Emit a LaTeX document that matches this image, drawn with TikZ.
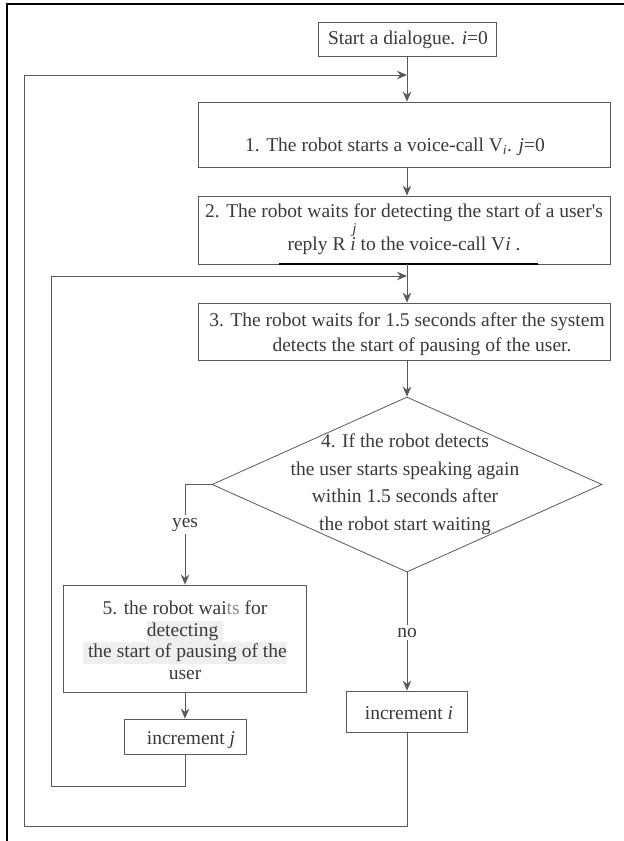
\documentclass[tikz,border=0pt]{standalone}
\usepackage{fontspec}
\setmainfont{Liberation Serif}
\usetikzlibrary{arrows.meta,shapes.geometric}
\definecolor{ln}{HTML}{595959}
\definecolor{tx}{HTML}{3A3A3A}
\definecolor{hl}{HTML}{EFEFEF}
\definecolor{lt}{HTML}{8A8A8A}
\newcommand{\hlbox}[1]{{\setlength{\fboxsep}{0pt}\colorbox{hl}{\strut #1}}}
\begin{document}
\begin{tikzpicture}[x=1pt,y=-1pt,
  box/.style={draw=ln, line width=0.8pt, rectangle, inner sep=0pt},
  txt/.style={text=tx, font=\fontsize{19.5}{23}\selectfont, align=center, inner sep=0pt},
  arr/.style={draw=ln, line width=0.9pt, -{Stealth[length=10pt,width=8.5pt]}},
  lbl/.style={txt, fill=white, inner sep=3pt}]
\useasboundingbox (0,0) rectangle (624,841);
\fill[white] (0,0) rectangle (624,841);
\draw[black, line width=1.2pt] (624,4) -- (7,4) -- (7,841);

% nodes
\node[box, minimum width=178pt, minimum height=34pt] (start) at (407,39) {};
\node[txt, font=\fontsize{19.5}{23}\selectfont] (tstart) at (408,40) {Start a dialogue. \textit{i}=0};

\node[box, minimum width=412pt, minimum height=65pt] (b1) at (404,134.5) {};
\node[txt] (t1) at (395,147) {1. The robot starts a voice-call V\textsubscript{\textit{i}}. \textit{j}=0};

\node[box, minimum width=412pt, minimum height=68pt] (b2) at (404,230) {};
\node[txt, font=\fontsize{19.5}{33}\selectfont] (t2) at (404,229) {2. The robot waits for detecting the start of a user\textquotesingle s\\
reply R \makebox[0pt][l]{\raisebox{0.85em}{\kern2pt\fontsize{15}{17}\selectfont\textit{j}}}\textit{i} to the voice-call V\textit{i} .};
\draw[black, line width=1.6pt] (279,264) -- (538,264);

\node[box, minimum width=412pt, minimum height=57pt] (b3) at (404,331.5) {};
\node[txt, font=\fontsize{19.5}{25}\selectfont] (t3) at (407,334) {3. The robot waits for 1.5 seconds after the system\\
\hspace*{30pt}detects the start of pausing of the user.};

\node[draw=ln, line width=0.8pt, diamond, minimum width=390pt, minimum height=175pt, inner sep=0pt] (d) at (407,484.5) {};
\node[txt, font=\fontsize{19.5}{27.5}\selectfont] (td) at (405,484) {4. If the robot detects\\the user starts speaking again\\within 1.5 seconds after\\the robot start waiting};

\node[box, minimum width=243pt, minimum height=107pt] (b5) at (185,638.5) {};
\node[txt, font=\fontsize{19.5}{21.5}\selectfont] (t5) at (185,640) {5. the robot wai\textcolor{lt}{ts} for\\\hlbox{detecting~}\\\hlbox{~the start of pausing of the}\\user};

\node[box, minimum width=122pt, minimum height=35pt] (incj) at (185,736.5) {};
\node[txt] (tj) at (191,740) {increment \textit{j}};

\node[box, minimum width=121pt, minimum height=41pt] (inci) at (407,711.5) {};
\node[txt] (ti) at (409,713) {increment \textit{i}};

% coordinates for loops
\coordinate (m1) at (407,75);
\coordinate (m2) at (407,276);
\coordinate (ci1) at (24,826);
\coordinate (cj1) at (51,786);
\coordinate (y1) at (185,484.5);

% main flow
\draw[arr] (start.south) -- (start.south |- b1.north);
\draw[arr] (start.south |- b1.south) -- (start.south |- b2.north);
\draw[arr] (start.south |- b2.south) -- (start.south |- b3.north);
\draw[arr] (start.south |- b3.south) -- (d.north);

% yes branch
\draw[arr] (d.west) -- (y1) -- node[lbl, pos=0.4] {yes} (y1 |- b5.north);
\draw[arr] (b5.south) -- (incj.north);
\draw[arr] (incj.south) |- (cj1) |- (m2);

% no branch
\draw[arr] (d.south) -- node[lbl, pos=0.51] {no} (inci.north);
\draw[arr] (inci.south) |- (ci1) |- (m1);
\end{tikzpicture}
\end{document}
